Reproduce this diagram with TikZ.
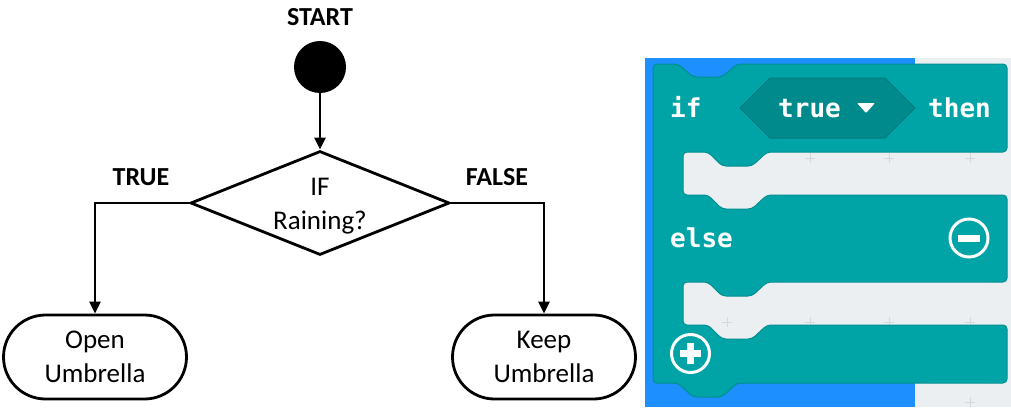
\documentclass[tikz,border=0pt]{standalone}
\usepackage{fontspec}
\setmainfont{Carlito}
\newfontfamily\codefont{DejaVu Sans Mono}
\usetikzlibrary{arrows.meta,shapes.geometric,shapes.misc}

\definecolor{blockteal}{HTML}{00A4A6}
\definecolor{blockedge}{HTML}{008F91}
\definecolor{hexteal}{HTML}{008A8C}
\definecolor{hexedge}{HTML}{007C7E}
\definecolor{wsgrey}{HTML}{ECEFF1}
\definecolor{wsblue}{HTML}{1E8FFF}
\definecolor{gridmark}{HTML}{D3D8DB}

\begin{document}
\begin{tikzpicture}[x=1pt,y=-1pt,
  flow/.style={draw=black, line width=2.8pt},
  arr/.style={line width=2.6pt, -{Triangle[length=12pt,width=11pt]}},
  lbl/.style={font=\fontsize{26}{30}\selectfont\bfseries, anchor=base, inner sep=0pt},
  txt/.style={font=\fontsize{27}{34}\selectfont, align=center},
  term/.style={flow, rounded rectangle, minimum width=183pt, minimum height=84pt, inner sep=0pt, txt},
  code/.style={font=\codefont\bfseries\fontsize{26}{30}\selectfont, text=white, anchor=base west, inner sep=0pt},
]
\useasboundingbox (0,0) rectangle (1011,407);

% ---------- flowchart ----------
\node[lbl] (startlbl) at (320,25) {START};
\node[circle, fill=black, minimum size=52pt, inner sep=0pt] (start) at (320,67) {};
\node[flow, diamond, minimum width=259pt, minimum height=104pt, inner sep=0pt] (dec) at (320,203) {};
\node[txt] (dectxt) at (320,206.5) {IF\\Raining?};
\node[lbl] (truelbl) at (141,185) {TRUE};
\node[lbl] (falselbl) at (497,185) {FALSE};
\node[term] (open) at (95,357) {Open\\Umbrella};
\node[term] (keep) at (544,357) {Keep\\Umbrella};

\draw[arr] (start) -- (dec.north);
\draw[arr] (dec.west) -| (open.north);
\draw[arr] (dec.east) -| (keep.north);

% ---------- block editor ----------
\fill[wsgrey] (645,58) rectangle (1011,407);
\fill[wsblue] (645,58) rectangle (915,407);
\fill[wsgrey] (670,140) rectangle (1011,215);
\fill[wsgrey] (670,270) rectangle (1011,345);

\foreach \x/\y in {810/158, 889/158, 970/158, 727/322, 810/322, 889/322, 970/322, 970/402}
  \draw[gridmark, line width=1pt] (\x-5,\y) -- (\x+5,\y) (\x,\y-5) -- (\x,\y+5);

% if / else block with its two statement slots
\filldraw[fill=blockteal, draw=blockedge, line width=1pt, rounded corners=4pt]
  (653,64) -- (678,64) -- (693,77) -- (722,77) -- (737,64) -- (1007,64)
  -- (1007,152) -- (767,152) -- (752,166) -- (722,166) -- (708,152) -- (683,152)
  -- (683,195) -- (708,195) -- (722,209) -- (752,209) -- (767,195) -- (1007,195)
  -- (1007,282) -- (767,282) -- (752,296) -- (722,296) -- (708,282) -- (683,282)
  -- (683,325) -- (708,325) -- (722,339) -- (752,339) -- (767,325) -- (1007,325)
  -- (1007,383) -- (737,383) -- (722,397) -- (693,397) -- (678,383) -- (653,383)
  -- cycle;

% boolean input
\filldraw[fill=hexteal, draw=hexedge, line width=1pt]
  (740,108) -- (770,78) -- (885,78) -- (915,108) -- (885,138) -- (770,138) -- cycle;
\fill[white, rounded corners=1pt] (857,103) -- (875,103) -- (866,113) -- cycle;

\node[code] (kwif) at (670,117) {if};
\node[code] (kwtrue) at (778,117) {true};
\node[code] (kwthen) at (928,117) {then};
\node[code] (kwelse) at (670,247) {else};

% remove / add buttons
\draw[white, line width=3pt] (969,238) circle[radius=19pt];
\fill[white] (958,234.5) rectangle (980,241.5);
\draw[white, line width=3pt] (690.5,353.5) circle[radius=19pt];
\fill[white] (680,350) rectangle (701,357);
\fill[white] (687,343) rectangle (694,364);
\end{tikzpicture}
\end{document}
